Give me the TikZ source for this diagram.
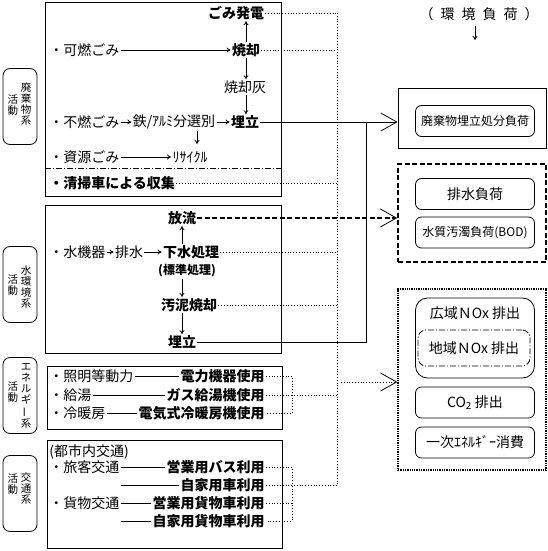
\documentclass[tikz,border=0pt]{standalone}
\usepackage{fontspec}
\setmainfont{Noto Sans CJK JP}
\usetikzlibrary{arrows.meta}

\begin{document}
\begin{tikzpicture}[x=1pt,y=-1pt,line width=0.8pt,>={To[length=4pt,width=5pt]},
  every node/.style={inner sep=1pt,font=\fontsize{14}{16}\selectfont},
  bl/.style={font=\fontsize{14}{16}\selectfont\bfseries},
  tab/.style={draw,rounded corners=7pt,minimum width=34,minimum height=76},
  vt/.style={align=center,inner sep=0pt,font=\fontsize{10.5}{11}\selectfont},
  loadbox/.style={draw,rounded corners=6pt,minimum width=119,minimum height=31},
  big/.style={-{Straight Barb[length=16pt,width=18pt,line width=0.8pt]}},
  dashdot/.style={dash pattern=on 6pt off 2pt on 1pt off 2pt}]
\useasboundingbox (0,0) rectangle (547,551);
\coordinate (vx) at (337,0);
\coordinate (jx) at (366,0);
\coordinate (bx) at (292,0);

% waste
\draw (45,2) rectangle (281,196);
\node[bl] (hatsuden) at (236,13) {ごみ発電};
\node[anchor=west] (kanen) at (48,50) {・可燃ごみ};
\node[bl] (shoukyaku) at (246,50) {焼却};
\node (bai) at (245,87) {焼却灰};
\node[anchor=west] (funen) at (48,122) {・不燃ごみ};
\node (senbetsu) at (174,122) {鉄/ｱﾙﾐ分選別};
\node[bl] (umetate) at (245,122) {埋立};
\node[anchor=west] (shigen) at (48,157) {・資源ごみ};
\node (recycle) at (190,157) {ﾘｻｲｸﾙ};
\node[bl,anchor=west] (shuushuu) at (48,183) {・清掃車による収集};
\coordinate (tetsu) at (197,144);
\draw[->] (kanen) -- (shoukyaku);
\draw[->] (shoukyaku.north) -- (shoukyaku.north |- hatsuden.south);
\draw[->] (shoukyaku.south) -- (shoukyaku.south |- bai.north);
\draw[->] (shoukyaku.south |- bai.south) -- (shoukyaku.south |- umetate.north);
\draw[->] (funen) -- (senbetsu);
\draw[->] (senbetsu) -- (umetate);
\draw[->] (senbetsu.south -| tetsu) -- (tetsu);
\draw[->] (shigen) -- (recycle);
\draw[dashdot] (45,168) -- (281,168);

% water
\draw (45,205) rectangle (281,353);
\node[bl] (houryuu) at (182,218) {放流};
\node[anchor=west] (mizukiki) at (48,252) {・水機器};
\node (haisui) at (129,252) {排水};
\node[bl] (gesui) at (191,252) {下水処理};
\node[font=\fontsize{12}{14}\selectfont\bfseries] (hyoujun) at (187,271) {(標準処理)};
\node[bl] (odei) at (189,305) {汚泥焼却};
\node[bl] (umetate2) at (182,342) {埋立};
\draw[->] (mizukiki) -- (haisui);
\draw[->] (haisui) -- (gesui);
\draw[->] (houryuu.south |- gesui.north) -- (houryuu.south);
\draw[->] (houryuu.south |- hyoujun.south) -- (houryuu.south |- odei.north);
\draw[->] (umetate2.north |- odei.south) -- (umetate2.north);

% energy
\draw (47,366) rectangle (282,429);
\node[anchor=west] (shoumei) at (48,376) {・照明等動力};
\node[bl,anchor=east] (denryoku) at (266,376) {電力機器使用};
\node[anchor=west] (kyuutou) at (48,395) {・給湯};
\node[bl,anchor=east] (gasu) at (266,395) {ガス給湯機使用};
\node[anchor=west] (reidan) at (48,413) {・冷暖房};
\node[bl,anchor=east] (denki) at (266,413) {電気式冷暖房機使用};
\draw (shoumei) -- (denryoku);
\draw (kyuutou) -- (gasu);
\draw (reidan) -- (denki);

% traffic
\draw (47,440) rectangle (282,548);
\node[anchor=west] (toshi) at (48,452) {(都市内交通)};
\node[anchor=west] (ryokaku) at (48,467) {・旅客交通};
\node[bl,anchor=east] (basu) at (266,467) {営業用バス利用};
\node[bl,anchor=east] (jikayou) at (266,485) {自家用車利用};
\node[anchor=west] (kamotsu) at (48,503) {・貨物交通};
\node[bl,anchor=east] (eigyou) at (266,503) {営業用貨物車利用};
\node[bl,anchor=east] (jikakamotsu) at (266,521) {自家用貨物車利用};
\draw (ryokaku) -- (basu);
\draw (ryokaku.east |- jikayou) -- (jikayou);
\draw (kamotsu) -- (eigyou);
\draw (kamotsu.east |- jikakamotsu) -- (jikakamotsu);

% tabs
\node[tab] (tab1) at (20,106.5) {};
\node[vt] (tab1a) at (26,104) {廃\\棄\\物\\系};
\node[vt] (tab1b) at (13,105) {活\\動};
\node[tab] (tab2) at (20,284.5) {};
\node[vt] (tab2a) at (26,287) {水\\環\\境\\系};
\node[vt] (tab2b) at (13,285) {活\\動};
\node[tab] (tab3) at (20,395.5) {};
\node[vt] (tab3a) at (26,396) {エ\\ネ\\ル\\ギ\\\rotatebox[origin=c]{90}{ー}\\系};
\node[vt] (tab3b) at (13,392) {活\\動};
\node[tab] (tab4) at (20,493.5) {};
\node[vt] (tab4a) at (26,488) {交\\通\\系};
\node[vt] (tab4b) at (13,484) {活\\動};

% loads
\node (kankyo) at (479,14) {（\enspace 環\enspace 境\enspace 負\enspace 荷\enspace ）};
\coordinate (kdown) at (475,40);
\draw[->,shorten <=4pt] (kdown |- kankyo.south) -- (kdown);
\node[draw,minimum width=148,minimum height=60] (load1) at (472,118) {};
\node[loadbox,font=\fontsize{12}{14}\selectfont] (haikibutsu) at (475,121) {廃棄物埋立処分負荷};
\node[draw,line width=1.6pt,dash pattern=on 5pt off 2.5pt,minimum width=148,minimum height=98] (load2) at (472,213) {};
\node[loadbox] (haisuifuka) at (475,194) {排水負荷};
\node[loadbox,font=\fontsize{12}{14}\selectfont] (suishitsu) at (475,232.5) {水質汚濁負荷(BOD)};
\node[draw,densely dotted,line width=1.3pt,minimum width=148,minimum height=181] (load3) at (472,379.5) {};
\node[draw,rounded corners=12pt,minimum width=119,minimum height=80] (kouiki) at (475,338) {};
\node (kouikitxt) at (475,313) {広域ＮOx 排出};
\node[loadbox,dashdot,rounded corners=8pt,minimum width=112,minimum height=36] (chiiki) at (474,348) {地域ＮOx 排出};
\node[loadbox] (co2) at (475,402.5) {CO\textsubscript{2} 排出};
\node[loadbox] (ichiji) at (475,442.5) {一次ｴﾈﾙｷﾞｰ消費};

% connectors
\draw[dotted] (vx |- hatsuden) -- (vx |- jikayou);
\draw[dotted] (hatsuden.east) -- (vx |- hatsuden.east);
\draw[dotted] (shoukyaku.east) -- (vx |- shoukyaku.east);
\draw[dotted] (shuushuu.east) -- (vx |- shuushuu.east);
\draw[dotted] (gesui.east) -- (vx |- gesui.east);
\draw[dotted] (odei.east) -- (vx |- odei.east);
\draw[dotted] (denryoku.east) -- (bx |- denryoku.east) -- (bx |- denki.east) -- (denki.east);
\draw[dotted] (gasu.east) -- (vx |- gasu.east);
\draw[dotted] (basu.east) -- (bx |- basu.east) -- (bx |- jikakamotsu.east) -- (jikakamotsu.east);
\draw[dotted] (eigyou.east) -- (bx |- eigyou.east);
\draw[dotted] (jikayou.east) -- (vx |- jikayou.east);
\draw[big] (umetate.east) -- (load1.west |- umetate.east);
\draw (umetate2.east) -- (jx |- umetate2.east) -- (jx |- umetate.east);
\draw[big,line width=1.6pt,dash pattern=on 5pt off 2.5pt] (houryuu.east) -- (load2.west |- houryuu.east);
\coordinate (lk) at (341,382);
\draw[big,dotted] (lk) -- (load3.west |- lk);
\end{tikzpicture}
\end{document}
